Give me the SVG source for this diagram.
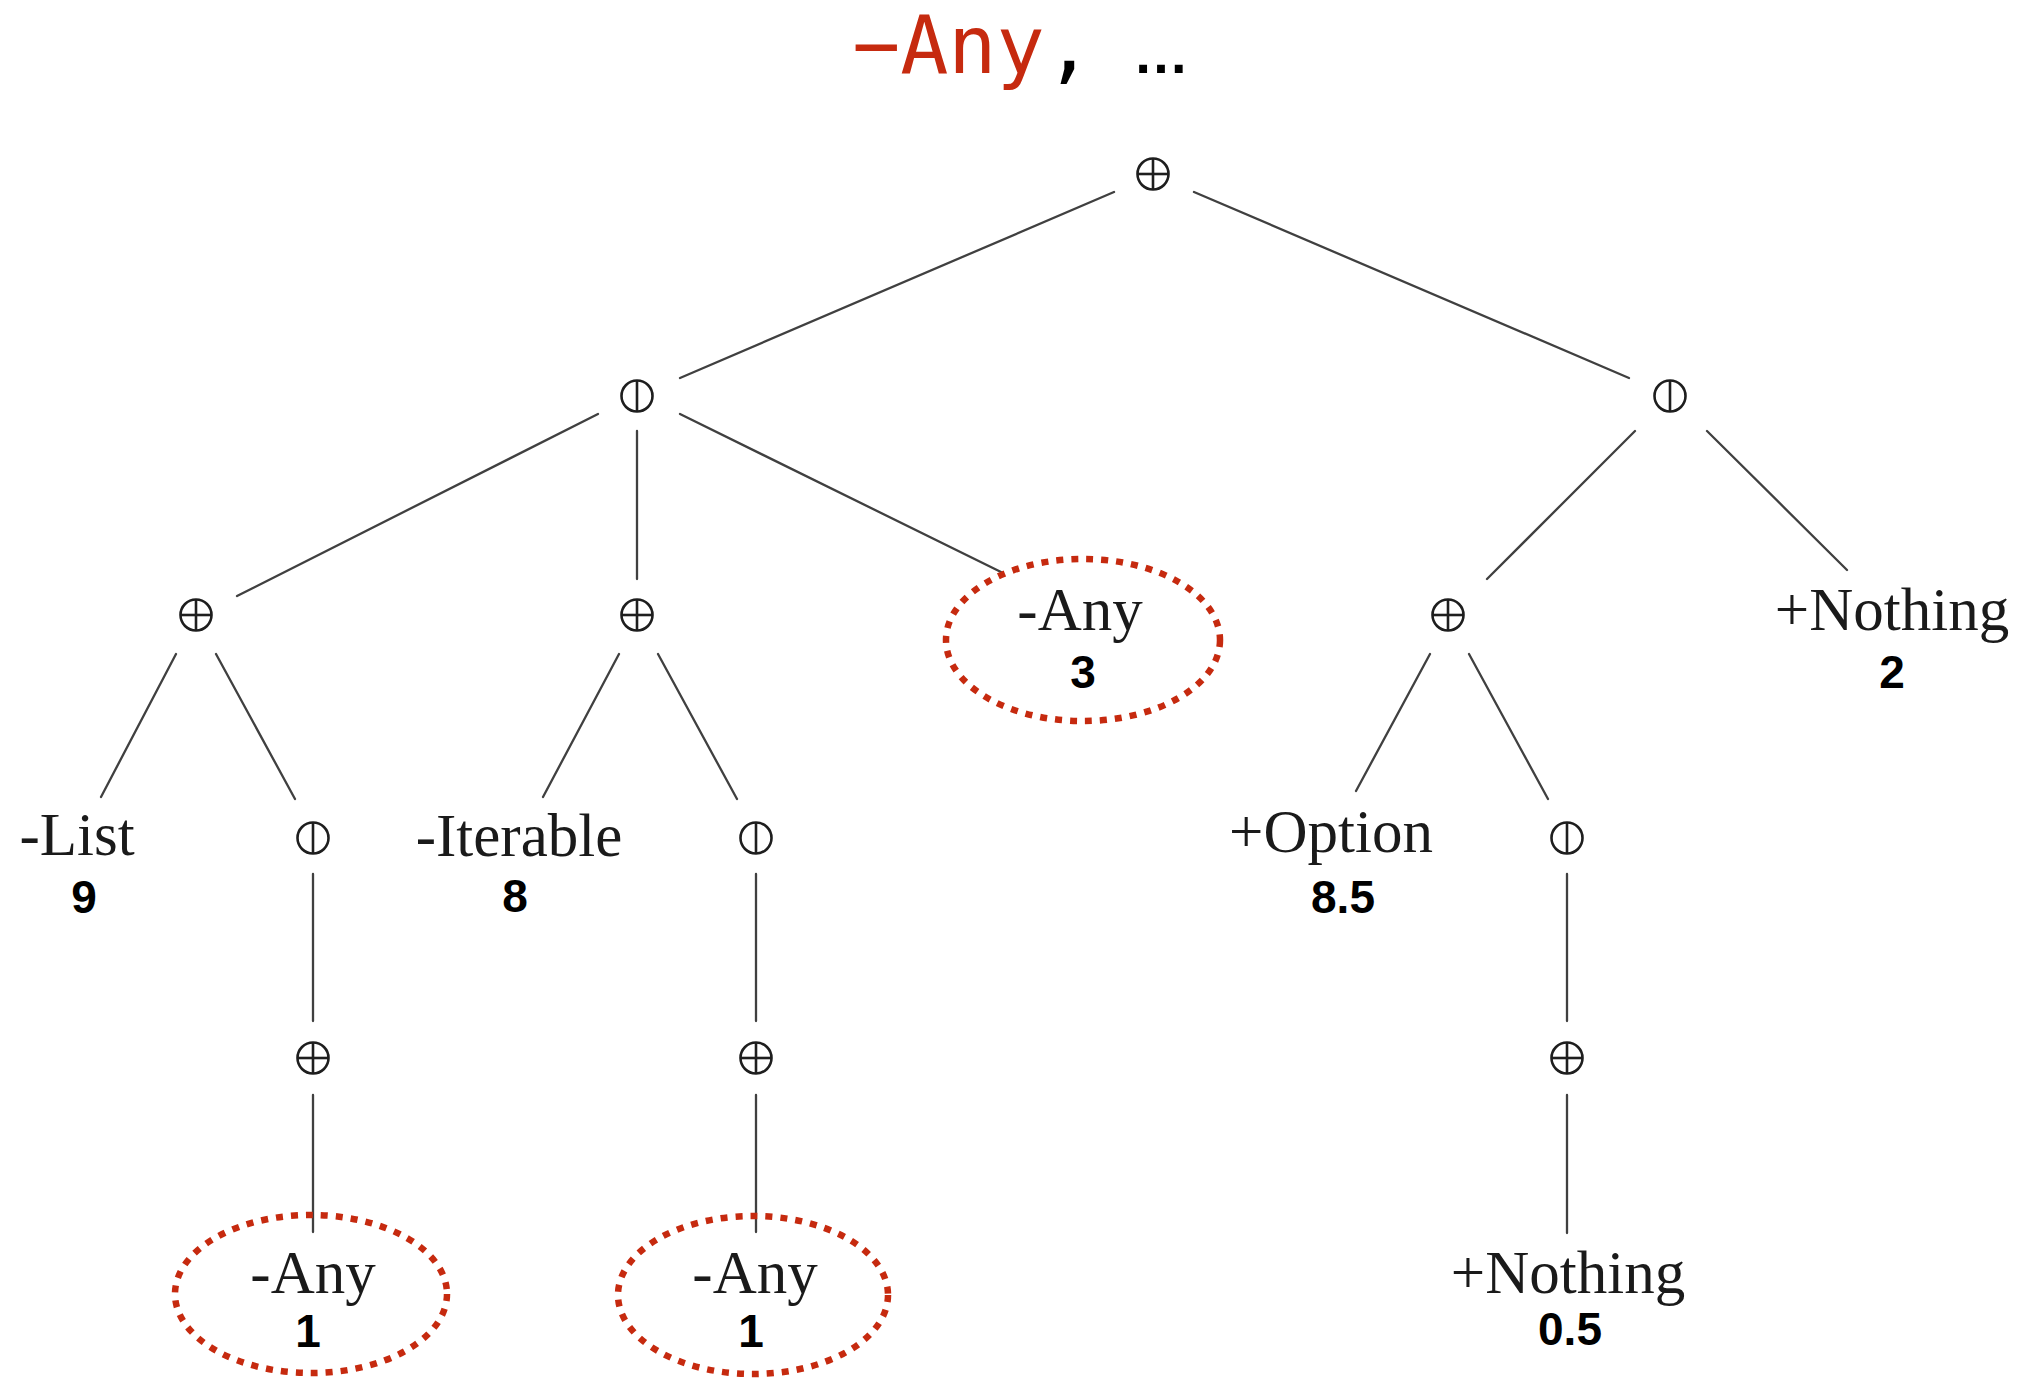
<svg xmlns="http://www.w3.org/2000/svg" width="2031" height="1378" viewBox="0 0 2031 1378">
  <defs>
    <style>
      .edge { stroke: #404040; stroke-width: 2.3; fill: none; stroke-linecap: round; }
      .op { stroke: #1e1e1e; stroke-width: 2.6; fill: none; }
      .lbl { font-family: "Liberation Serif", "DejaVu Serif", serif; font-size: 61px; fill: #1a1a1a; text-anchor: middle; }
      .num { font-family: "Liberation Sans", Arial, sans-serif; font-weight: bold; font-size: 46px; fill: #000; text-anchor: middle; }
      .mark { fill: none; stroke: #c62a0f; stroke-width: 6.5; stroke-dasharray: 7 8; }
      .title { font-family: "DejaVu Sans Mono", "Liberation Mono", monospace; font-size: 80px; }
    </style>
    <!-- choice operator: circle with a cross -->
    <g id="plus">
      <circle class="op" cx="0" cy="0" r="15.5"/>
      <line class="op" x1="-15.5" y1="0" x2="15.5" y2="0"/>
      <line class="op" x1="0" y1="-15.5" x2="0" y2="15.5"/>
    </g>
    <!-- sequence operator: circle with a vertical bar -->
    <g id="bar">
      <circle class="op" cx="0" cy="0" r="15.5"/>
      <line class="op" x1="0" y1="-15.5" x2="0" y2="15.5"/>
    </g>
  </defs>

  <rect width="2031" height="1378" fill="#ffffff"/>

  <!-- heading -->
  <g id="heading">
    <text class="title" x="852" y="73"><tspan fill="#c62a0f">−Any</tspan><tspan fill="#000">,</tspan></text>
    <text x="1161" y="73" font-family="Liberation Sans, Arial, sans-serif" font-weight="bold" font-size="56" text-anchor="middle" fill="#000">…</text>
  </g>

  <!-- connectors -->
  <g id="edges">
    <line class="edge" x1="1114" y1="192" x2="680" y2="378"/>
    <line class="edge" x1="1194" y1="192" x2="1629" y2="378"/>

    <line class="edge" x1="598" y1="414" x2="237" y2="596"/>
    <line class="edge" x1="637" y1="431" x2="637" y2="579"/>
    <line class="edge" x1="680" y1="414" x2="1001" y2="572"/>

    <line class="edge" x1="1635" y1="431" x2="1487" y2="579"/>
    <line class="edge" x1="1707" y1="431" x2="1847" y2="570"/>

    <line class="edge" x1="176" y1="654" x2="101" y2="797"/>
    <line class="edge" x1="216" y1="654" x2="295" y2="799"/>
    <line class="edge" x1="619" y1="654" x2="543" y2="797"/>
    <line class="edge" x1="658" y1="654" x2="737" y2="799"/>
    <line class="edge" x1="1430" y1="654" x2="1356" y2="791"/>
    <line class="edge" x1="1469" y1="654" x2="1548" y2="799"/>

    <line class="edge" x1="313" y1="874" x2="313" y2="1021"/>
    <line class="edge" x1="313" y1="1095" x2="313" y2="1232"/>
    <line class="edge" x1="756" y1="874" x2="756" y2="1021"/>
    <line class="edge" x1="756" y1="1095" x2="756" y2="1232"/>
    <line class="edge" x1="1567" y1="874" x2="1567" y2="1021"/>
    <line class="edge" x1="1567" y1="1095" x2="1567" y2="1233"/>
  </g>

  <!-- operator nodes -->
  <g id="root"><use href="#plus" x="1153" y="174"/></g>
  <g id="seq-left"><use href="#bar" x="637" y="396"/></g>
  <g id="seq-right"><use href="#bar" x="1670" y="396"/></g>
  <g id="alt-a"><use href="#plus" x="196" y="615"/></g>
  <g id="alt-b"><use href="#plus" x="637" y="615"/></g>
  <g id="alt-c"><use href="#plus" x="1448" y="615"/></g>
  <g id="seq-a"><use href="#bar" x="313" y="838"/></g>
  <g id="seq-b"><use href="#bar" x="756" y="838"/></g>
  <g id="seq-c"><use href="#bar" x="1567" y="838"/></g>
  <g id="alt-d"><use href="#plus" x="313" y="1058"/></g>
  <g id="alt-e"><use href="#plus" x="756" y="1058"/></g>
  <g id="alt-f"><use href="#plus" x="1567" y="1058"/></g>

  <!-- leaf nodes -->
  <g id="leaf-any-3">
    <ellipse class="mark" cx="1083" cy="640" rx="137" ry="81"/>
    <text class="lbl" x="1080" y="630">-Any</text>
    <text class="num" x="1083" y="688">3</text>
  </g>
  <g id="leaf-nothing-2">
    <text class="lbl" x="1892" y="630">+Nothing</text>
    <text class="num" x="1892" y="688">2</text>
  </g>
  <g id="leaf-list">
    <text class="lbl" x="77" y="855">-List</text>
    <text class="num" x="84" y="913">9</text>
  </g>
  <g id="leaf-iterable">
    <text class="lbl" x="519" y="856">-Iterable</text>
    <text class="num" x="515" y="912">8</text>
  </g>
  <g id="leaf-option">
    <text class="lbl" x="1331" y="852">+Option</text>
    <text class="num" x="1343" y="913">8.5</text>
  </g>
  <g id="leaf-any-1a">
    <ellipse class="mark" cx="311" cy="1294" rx="136" ry="79"/>
    <text class="lbl" x="313" y="1293">-Any</text>
    <text class="num" x="308" y="1347">1</text>
  </g>
  <g id="leaf-any-1b">
    <ellipse class="mark" cx="753" cy="1295" rx="135" ry="79"/>
    <text class="lbl" x="755" y="1293">-Any</text>
    <text class="num" x="751" y="1347">1</text>
  </g>
  <g id="leaf-nothing-05">
    <text class="lbl" x="1568" y="1293">+Nothing</text>
    <text class="num" x="1570" y="1345">0.5</text>
  </g>
</svg>
